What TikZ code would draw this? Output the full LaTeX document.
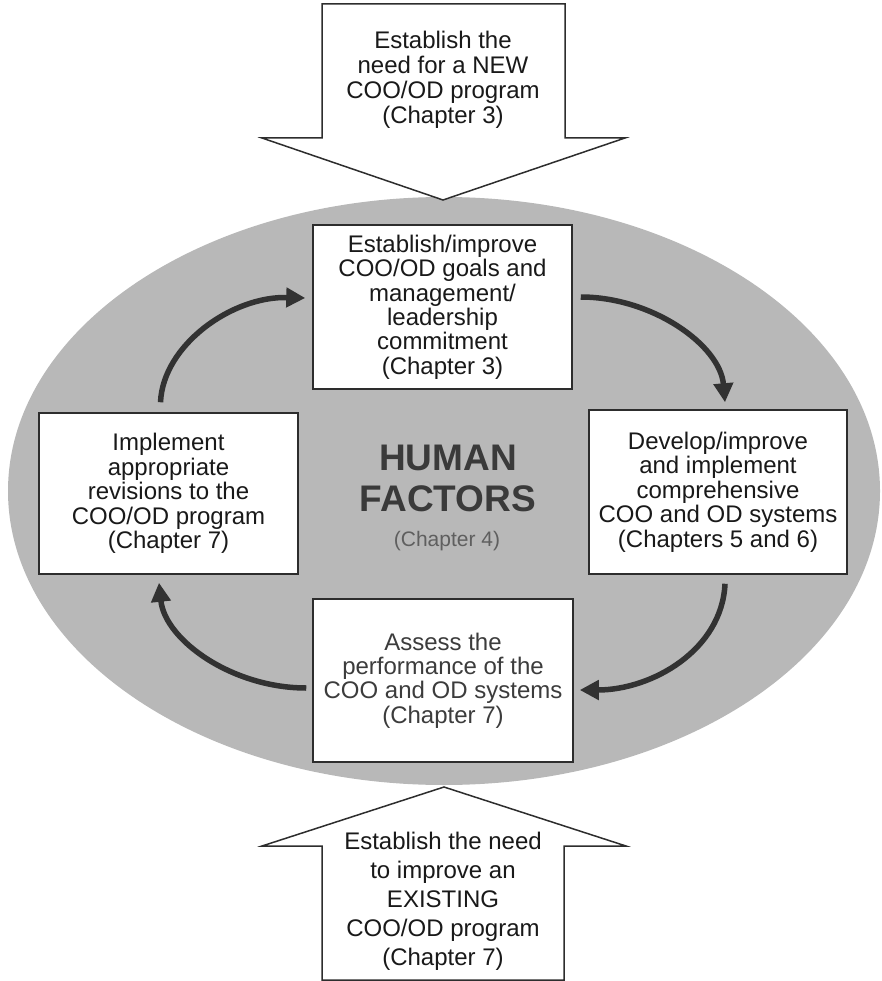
\documentclass[tikz,border=0pt]{standalone}
\usepackage{fontspec}
\setmainfont{Liberation Sans}
\usetikzlibrary{shapes.geometric,arrows.meta,calc}
\definecolor{ellgray}{RGB}{184,184,184}
\definecolor{edge}{RGB}{45,45,45}
\definecolor{txt}{RGB}{25,25,25}
\definecolor{txtgray}{RGB}{60,60,60}
\definecolor{hfcol}{RGB}{58,58,58}
\definecolor{chgray}{RGB}{95,95,95}
\definecolor{arrcol}{RGB}{50,50,50}
\tikzset{
  stepbox/.style={draw=edge, line width=1.5pt, fill=white, rectangle, inner sep=0pt,
    align=center, text=txt, font=\fontsize{24}{24.4}\selectfont},
  blockarrow/.style={draw=edge, line width=1.5pt, fill=white, line join=miter},
  arrtext/.style={align=center, text=txt, inner sep=0pt},
  cyclearrow/.style={draw=arrcol, line width=5.5pt, -{Triangle[length=19pt,width=19pt]}}
}
\begin{document}
\begin{tikzpicture}[x=1pt,y=-1pt]
\useasboundingbox (0,0) rectangle (882,981);
% background ellipse
\node[ellipse, fill=ellgray, minimum width=872pt, minimum height=588pt, inner sep=0pt] (hf) at (444,491) {};
% block arrows
\draw[blockarrow] (322,4) -- (565,4) -- (565,138) -- (625,138) -- (443,200) -- (262,138) -- (322,138) -- cycle;
\node[arrtext, font=\fontsize{24}{25}\selectfont] (newprog) at (443,80)
  {Establish the\\need for a NEW\\COO/OD program\\(Chapter 3)};
\draw[blockarrow] (444,787) -- (626,846) -- (564,846) -- (564,980) -- (322,980) -- (322,846) -- (262,846) -- cycle;
\node[arrtext, font=\fontsize{24}{29}\selectfont] (existprog) at (443,901)
  {Establish the need\\to improve an\\EXISTING\\COO/OD program\\(Chapter 7)};
% centre text
\node[align=center, text=hfcol, inner sep=0pt, font=\bfseries\fontsize{37}{41}\selectfont] (human) at (448,478.5) {HUMAN\\FACTORS};
\node[text=chgray, inner sep=0pt, font=\fontsize{21}{24}\selectfont] (ch4) at (447,541) {(Chapter 4)};
% step boxes
\node[stepbox, minimum width=259pt, minimum height=164pt] (T) at (442.5,307)
  {Establish/improve\\COO/OD goals and\\management/\\leadership\\commitment\\(Chapter 3)};
\node[stepbox, minimum width=258pt, minimum height=164pt] (R) at (718,492)
  {Develop/improve\\and implement\\comprehensive\\COO and OD systems\\(Chapters 5 and 6)};
\node[stepbox, minimum width=260pt, minimum height=163pt, text=txtgray] (B) at (443,680.5)
  {Assess the\\performance of the\\COO and OD systems\\(Chapter 7)};
\node[stepbox, minimum width=259pt, minimum height=161pt] (L) at (168.5,493.5)
  {Implement\\appropriate\\revisions to the\\COO/OD program\\(Chapter 7)};
% cycle arrows
\draw[cyclearrow] ([xshift=-8pt,yshift=10pt]L.north) .. controls (163,345) and (232,296) .. ([xshift=-7pt,yshift=9pt]T.west);
\draw[cyclearrow] ([xshift=8pt,yshift=10pt]T.east) .. controls (652,297) and (720,345) .. ([xshift=7pt,yshift=7pt]R.north);
\draw[cyclearrow] ([xshift=7pt,yshift=-9pt]R.south) .. controls (722,650) and (652,690) .. ([xshift=6pt,yshift=-9.5pt]B.east);
\draw[cyclearrow] ([xshift=-6pt,yshift=-7.5pt]B.west) .. controls (232,688) and (165,640) .. ([xshift=-9.5pt,yshift=-8pt]L.south);
\end{tikzpicture}
\end{document}
